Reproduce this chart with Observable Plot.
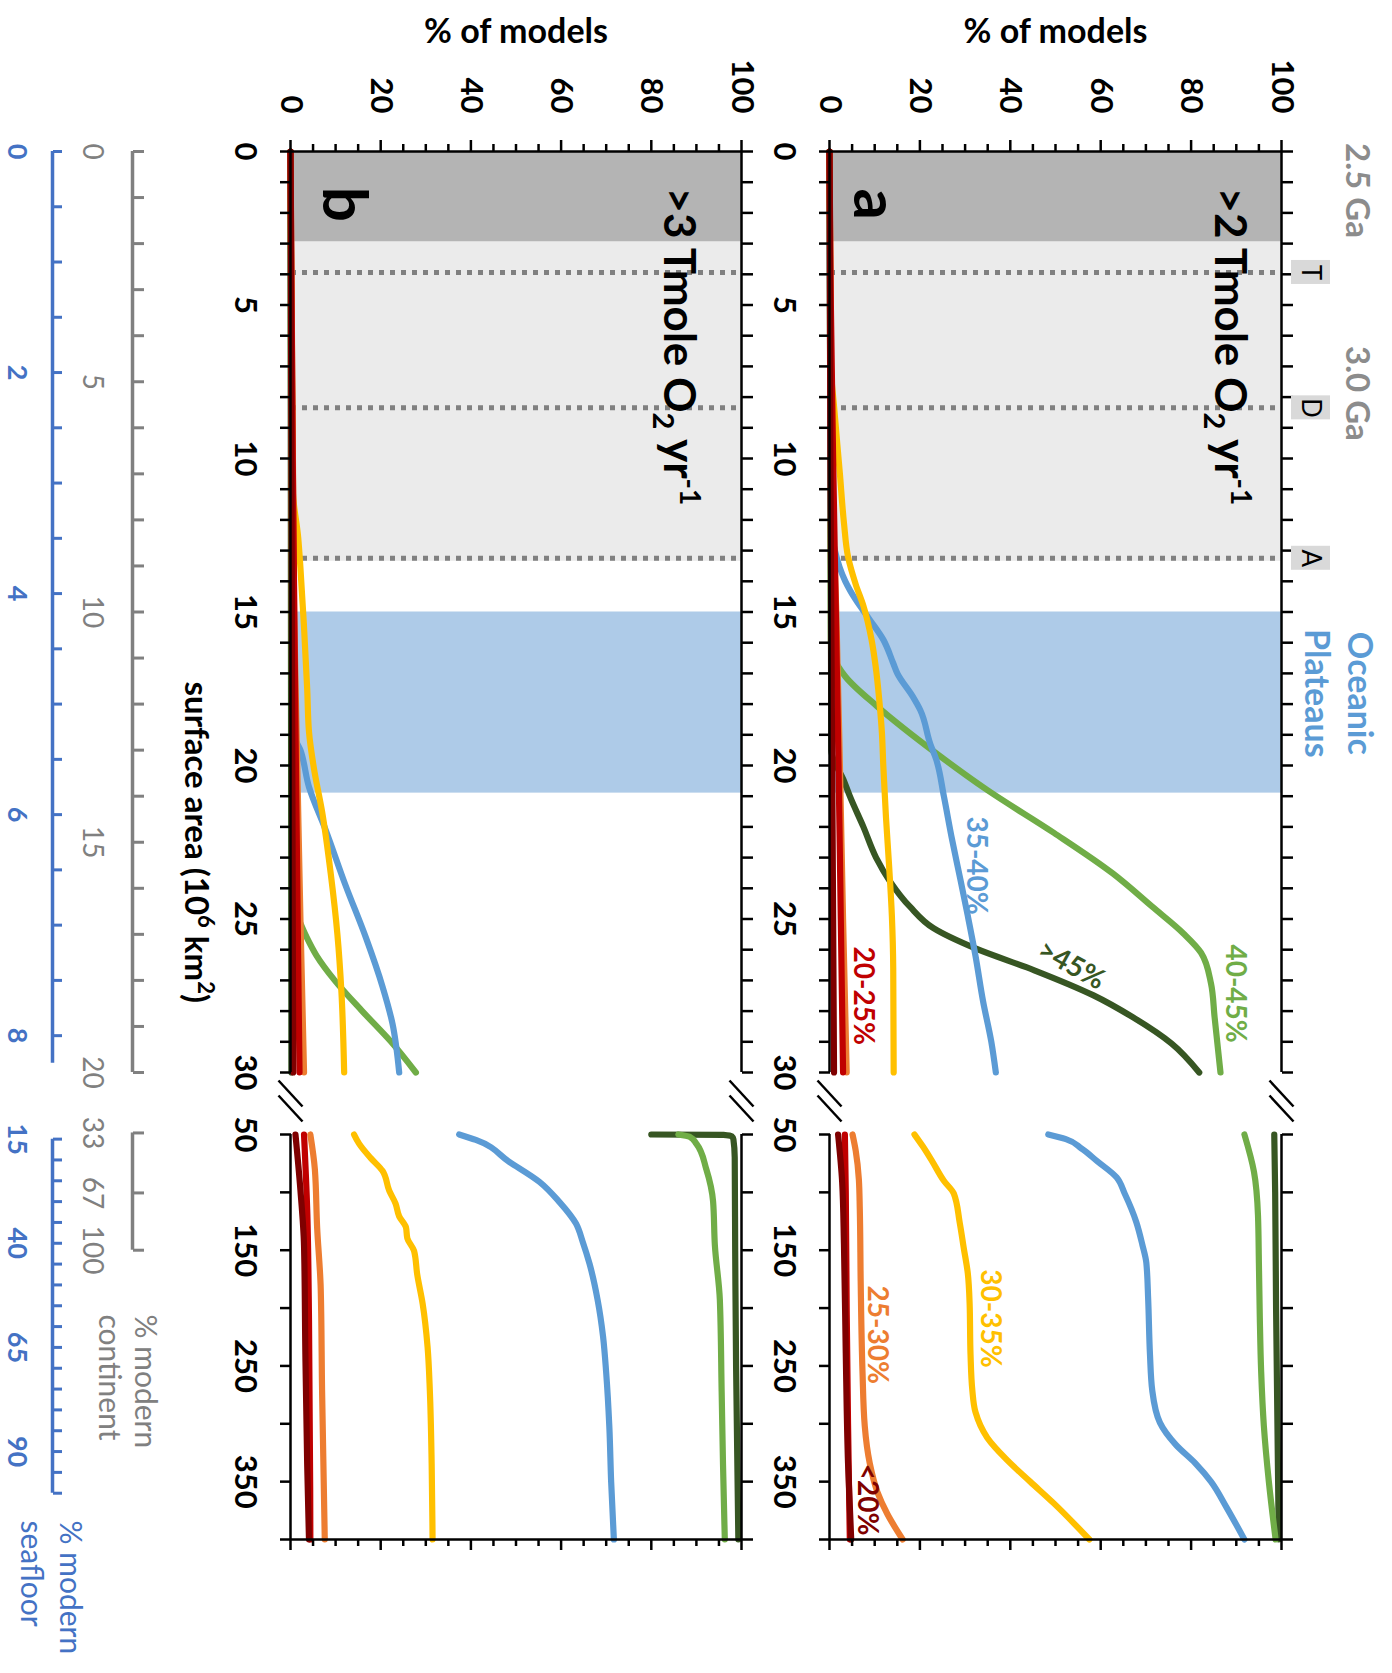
<!DOCTYPE html>
<html>
<head>
<meta charset="utf-8">
<script src="https://cdn.jsdelivr.net/npm/d3@7"></script>
<script src="https://cdn.jsdelivr.net/npm/@observablehq/plot@0.6"></script>
<style>
  html, body { margin: 0; padding: 0; background: #fff; }
  body { width: 1392px; height: 1673px; overflow: hidden; position: relative; }
  #wrap { position: absolute; left: 0; top: 0; width: 1673px; height: 1392px;
          transform-origin: 0 0; transform: translate(1392px, 0) rotate(90deg); }
  #wrap > svg { position: absolute; left: 0; }
</style>
</head>
<body>
<div id="wrap"></div>
<script>
// ================= DATA =================
const seriesNames  = [">45%", "40-45%", "35-40%", "30-35%", "25-30%", "20-25%", "<20%"];
const seriesColors = ["#375623", "#70ad47", "#5b9bd5", "#ffc000", "#ed7d31", "#c00000", "#7f0000"];

// panel a : >2 Tmole O2/yr  — [surface area (10^6 km2), % of models]
const aGt45 = [[0,0],[19.5,0.4],[20.5,3.2],[21,4.5],[22,7.5],[23,10.3],[23.8,13.5],[24.6,17.8],[25.3,23],[25.96,32.3],[26.67,45.3],[27.48,58.3],[28.19,67],[29.06,75.7],[30,81.8],
               [50,98.4],[100,98.6],[200,98.8],[300,99.1],[400,99.4]];
const a4045 = [[0,0],[16,0.3],[16.5,1],[17.1,3.5],[18.08,10.6],[19.6,23.6],[20.8,34.9],[22.2,49.7],[23.52,62.7],[24.6,71.4],[25.47,78.3],[26.1,82.2],[27.1,84.4],[28.2,85.2],[30,86.5],
               [50,91.8],[82,93.9],[120,94.8],[161,95],[208,95.2],[255,95.5],[302,96.1],[350,97.2],[400,98.7]];
const a3540 = [[0,0],[12,0.3],[13,1.2],[14,3.5],[14.6,5.8],[15.25,8.9],[15.9,11.9],[16.67,14.1],[17,15],[17.75,18.4],[18.2,20.1],[19.3,22.3],[19.8,23.6],[21,25.3],[22.4,27.1],[23.6,28.8],[24.9,30.6],[26.2,32.3],[27.7,34],[29,35.8],[30,36.8],
               [50,48.4],[54,52.3],[62,55.7],[73,59.2],[87,63.5],[101,65.3],[126,67.9],[145,69.2],[161,70.1],[192,70.5],[240,70.9],[271,71.4],[299,73.1],[318,76.6],[334,80.9],[350,84.4],[372,87.8],[400,91.8]];
const a3035 = [[0,0],[7,0.3],[8.3,1],[10.5,2.3],[12.1,3.2],[13.2,4.1],[14.1,5.8],[14.8,7.5],[15.9,9.3],[16.76,10.2],[17.85,11],[18.95,11.6],[20,11.9],[21.7,12.5],[23.3,13.2],[24.9,13.8],[26.6,14.1],[30,14.2],
               [50,18.8],[60,20.6],[73,22.7],[90,25.3],[101,27.5],[126,28.8],[148,29.7],[170,30.6],[196,31],[240,31.2],[271,31.6],[290,32.3],[312,34.9],[331,39.2],[350,44.4],[369,49.7],[400,57.5]];
const a2530 = [[0,0],[10,0.4],[15,1.5],[20,2.3],[25,3],[30,3.8],
               [50,5.1],[64,5.8],[89,6.5],[114,6.7],[177,6.9],[255,7.3],[302,7.8],[334,8.9],[359,10.6],[378,12.8],[400,16.2]];
const a2025 = [[0,0],[5,0.3],[10,0.8],[15,1.4],[20,2],[25,2.5],[30,3],
               [50,3.4],[100,3.6],[200,3.8],[300,4.1],[400,4.5]];
const aLt20 = [[0,0],[10,0.2],[20,0.6],[30,1],
               [50,1.9],[91,2.8],[145,3.2],[239,3.6],[334,4.1],[400,4.8]];

// panel b : >3 Tmole O2/yr
const bGt45 = [[0,0],[30,0.2],
               [50,80],[50.3,96],[51.5,97.8],[54,98.2],[70,98.5],[150,98.6],[250,98.8],[400,99.3]];
const b4045 = [[0,0],[24.5,0.5],[25,1.8],[25.6,3.6],[26.2,5.8],[27,9.8],[28,15.9],[29,22.3],[30,27.8],
               [50,86],[52,88.5],[58,90],[80,92.2],[108,93.7],[146,94.1],[193,95.2],[272,95.6],[335,95.9],[400,96.3]];
const b3540 = [[0,0],[19,0.8],[19.5,2.2],[20.7,4.1],[22.1,7.8],[23.9,12.2],[25.6,16.7],[27.2,20.4],[28.4,22.6],[30,24.1],
               [50,37.4],[54.7,41.1],[73.6,48.5],[90.9,55.2],[108.2,59.6],[127,63.3],[142.8,64.8],[161.6,66.3],[193,68.1],[224.5,69.3],[256,70],[303,70.7],[350.3,71.1],[400,71.7]];
const b3035 = [[0,0],[11,0.5],[12.57,1.7],[13.56,2.2],[15.5,3],[17.5,3.7],[18.9,4.1],[20.1,5.2],[21.5,7],[23.5,8.9],[25.5,10.4],[27.4,11.3],[30,11.9],
               [50,14.1],[57.9,15.2],[70.4,17.8],[81.4,20.4],[98.7,21.9],[109.7,23.3],[120.8,24.1],[130.2,25.6],[139.6,25.9],[150.6,27.4],[171,28.1],[196.2,29.3],[233.9,30.4],[271.7,30.9],[334.6,31.3],[400,31.5]];
const b2530 = [[0,0],[15,0.8],[20,1.5],[25,2.2],[30,3],
               [50,4.4],[80,5.4],[130,5.9],[183,6.7],[271,7],[400,7.6]];
const b2025 = [[0,0],[10,0.5],[20,1.2],[30,2],
               [50,3],[115,3.7],[210,4.1],[400,4.4]];
const bLt20 = [[0,0],[30,0.6],
               [50,1.1],[98,2.2],[146,3],[240,3.3],[335,3.7],[400,4.1]];

// shaded periods and events (surface area)
const darkEra     = [[0, 2.95]];
const lightEra    = [[2.95, 13.35]];
const plateauBand = [[15, 20.9]];
const events      = [{label: "T", area: 3.94}, {label: "D", area: 8.35}, {label: "A", area: 13.25}];
const ageLabels   = [{label: "2.5 Ga", area: 1.27}, {label: "3.0 Ga", area: 7.88}];

// series labels of panel a
const seriesLabelsA = [
  {series: "35-40%", area: 23.26, pct: 32.3, angle: 0},
  {series: "40-45%", area: 27.43, pct: 89.6, angle: 0},
  {series: ">45%",   area: 26.5,  pct: 53.5, angle: -61},
  {series: "20-25%", area: 27.5,  pct: 7.5,  angle: 0},
  {series: "30-35%", area: 209,   pct: 35.6, angle: 0},
  {series: "25-30%", area: 223,   pct: 10.6, angle: 0},
  {series: "<20%",   area: 365.5, pct: 8.2,  angle: 0}
];

// axes
const areaDomain     = [0, 30, 50, 400];
const areaTicks      = [...d3.range(0, 31, 1), ...d3.range(50, 401, 50)];
const areaTickLabels = [0, 5, 10, 15, 20, 25, 30, 50, 150, 250, 350];
const pctTicks       = d3.range(0, 101, 5);
const pctTickLabels  = [0, 20, 40, 60, 80, 100];
const modernContinent = 150;   // 10^6 km2
const modernSeafloor  = 360;   // 10^6 km2
const continentTicksUpper  = d3.range(0, 21, 1);
const continentLabelsUpper = [0, 5, 10, 15, 20];
const continentLabelsLower = [33, 67, 100];
const seafloorTicksUpper   = d3.range(0, 8.01, 0.5);
const seafloorLabelsUpper  = [0, 2, 4, 6, 8];
const seafloorTicksLower   = d3.range(15, 101, 5);
const seafloorLabelsLower  = [15, 40, 65, 90];

// ================= LAYOUT (unrotated frame, rotated by CSS) =================
const FONT = "Lato, 'Open Sans', 'DejaVu Sans', sans-serif";
const U = [151, 1072, 1134, 1539];
const pxU = (U[1] - U[0]) / 30, pxL = (U[3] - U[2]) / 350, gapPx = (U[2] - U[1]) / 20;
const xScale = () => ({type: "linear", domain: areaDomain, range: U, axis: null});
const colorScale = {type: "ordinal", domain: seriesNames, range: seriesColors};
const baseStyle = {fontFamily: FONT, overflow: "visible", background: "transparent", color: "#000"};

function richText(svg, plain, parts) {
  for (const t of svg.querySelectorAll("text")) {
    if (t.textContent === plain) {
      t.textContent = "";
      for (const [s, dy, fs] of parts) {
        const ts = document.createElementNS("http://www.w3.org/2000/svg", "tspan");
        ts.textContent = s;
        if (dy) ts.setAttribute("dy", dy);
        if (fs) ts.setAttribute("font-size", fs);
        t.appendChild(ts);
      }
    }
  }
}

function panel({series, height, top, bottom, title, titlePct, letter, letterPct, labels = [], extra = () => []}) {
  const pxP = (bottom - top) / 100;
  const rows = [];
  series.forEach((pts, i) => pts.forEach(([area, pct]) =>
    rows.push({series: seriesNames[i], key: seriesNames[i] + (area < 40 ? "|u" : "|l"), area, pct})));
  const tickP = 11 / pxP;
  const frame = {stroke: "#000", strokeWidth: 2.5};
  const breaks = [];
  [1093, 1108].forEach(u => {
    const c = 30 + (u - U[1]) / gapPx;
    [0, 100].forEach(p => breaks.push({x1: c - 13 / gapPx, x2: c + 13 / gapPx, y1: p - 12 / pxP, y2: p + 12 / pxP}));
  });
  const band = (arr, fill) => Plot.rect(arr, {x1: d => d[0], x2: d => d[1], y1: 0, y2: 100, fill});
  return Plot.plot({
    width: 1673, height,
    x: xScale(),
    y: {type: "linear", domain: [0, 100], range: [bottom, top], axis: null},
    color: colorScale,
    style: baseStyle,
    marks: [
      band(darkEra, "#b4b4b4"),
      band(lightEra, "#ebebeb"),
      band(plateauBand, "#aecbe8"),
      Plot.ruleX(events, {x: "area", y1: 0, y2: 100, stroke: "#808080", strokeWidth: 5, strokeDasharray: "5,6"}),
      Plot.line(rows, {x: "area", y: "pct", z: "key", stroke: "series", strokeWidth: 6.2, curve: "monotone-x"}),
      Plot.ruleY([0, 100], {x1: 0, x2: 30, ...frame}),
      Plot.ruleY([0, 100], {x1: 50, x2: 400, ...frame}),
      Plot.ruleX([0, 400], {y1: 0, y2: 100, ...frame}),
      Plot.link(breaks, {x1: "x1", y1: "y1", x2: "x2", y2: "y2", ...frame}),
      Plot.ruleX(areaTicks, {x: d => d, y1: 0, y2: -tickP, ...frame}),
      Plot.ruleX(areaTicks, {x: d => d, y1: 100, y2: 100 + tickP, ...frame}),
      Plot.ruleY(pctTicks, {y: d => d, x1: 0, x2: d => -(d % 20 === 0 ? 11 : 7) / pxU, ...frame}),
      Plot.ruleY(pctTicks, {y: d => d, x1: 400, x2: d => 400 + (d % 20 === 0 ? 11 : 7) / pxL, ...frame}),
      Plot.text(areaTickLabels, {x: d => d, y: 0, dy: 33, lineAnchor: "top", text: d => String(d), fontSize: 31, fontWeight: "bold", fill: "#000"}),
      Plot.text(pctTickLabels, {x: 0, y: d => d, dx: -38, textAnchor: "end", text: d => String(d), fontSize: 31, fontWeight: "bold", fill: "#000"}),
      Plot.text(["% of models"], {x: -3.52, y: 50, rotate: -90, lineAnchor: "bottom", text: d => d, fontSize: 34, fontWeight: "bold", fill: "#000"}),
      Plot.text([title], {x: 1.17, y: titlePct, textAnchor: "start", lineAnchor: "bottom", text: d => d, fontSize: 44, fontWeight: "bold", fill: "#000"}),
      Plot.text([letter], {x: 1.72, y: letterPct, lineAnchor: "bottom", text: d => d, fontSize: 62, fontWeight: "bold", fill: "#000"}),
      Plot.text(labels, {x: "area", y: "pct", text: "series", fill: "series", rotate: "angle", fontSize: 28, fontWeight: "bold"}),
      ...extra(pxP)
    ]
  });
}

const wrap = document.getElementById("wrap");

// ---- panel a ----
const svgA = panel({
  series: [aGt45, a4045, a3540, a3035, a2530, a2025, aLt20],
  height: 640, top: 110, bottom: 562,
  title: ">2 Tmole O2 yr-1", titlePct: 85.2,
  letter: "a", letterPct: 5.5,
  labels: seriesLabelsA,
  extra: pxP => [
    Plot.rect(events, {x1: d => d.area - 12 / pxU, x2: d => d.area + 12 / pxU, y1: 100 + 9 / pxP, y2: 100 + 48 / pxP, fill: "#d9d9d9"}),
    Plot.text(events, {x: "area", y: 100 + 28.5 / pxP, text: "label", fontSize: 26, fill: "#000"}),
    Plot.text(ageLabels, {x: "area", y: 100 + 64 / pxP, text: "label", lineAnchor: "bottom", fontSize: 33, fontWeight: "bold", fill: "#8c8c8c"}),
    Plot.text(plateauBand, {x: d => (d[0] + d[1]) / 2 - 0.3, y: 100 + 23 / pxP, text: () => "Oceanic\nPlateaus", lineAnchor: "bottom", lineHeight: 1.265, fontSize: 34, fontWeight: "bold", fill: "#5b9bd5"})
  ]
});
svgA.style.top = "0px";
richText(svgA, ">2 Tmole O2 yr-1", [[">2 Tmole O"], ["2", 11, 29], [" yr", -11], ["-1", -16, 28]]);
wrap.appendChild(svgA);

// ---- panel b ----
const svgB = panel({
  series: [bGt45, b4045, b3540, b3035, b2530, b2025, bLt20],
  height: 580, top: 10, bottom: 461,
  title: ">3 Tmole O2 yr-1", titlePct: 82.9,
  letter: "b", letterPct: 7.1,
  extra: pxP => [
    Plot.text(["surface area (10^6 km^2)"], {x: 22.5, y: -106 / pxP, text: d => d, lineAnchor: "bottom", fontSize: 33, fontWeight: "bold", fill: "#000"})
  ]
});
svgB.style.top = "640px";
richText(svgB, ">3 Tmole O2 yr-1", [[">3 Tmole O"], ["2", 11, 29], [" yr", -11], ["-1", -16, 28]]);
richText(svgB, "surface area (10^6 km^2)", [["surface area (10"], ["6", -13, 22], [" km", 13], ["2", -13, 22], [")", 13]]);
wrap.appendChild(svgB);

// ---- bottom axes: % modern continent / % modern seafloor ----
const gray = "#808080", blue = "#4472c4";
const cont = c => c * modernContinent / 100;
const sea = s => s * modernSeafloor / 100;
const svgC = Plot.plot({
  width: 1673, height: 172,
  x: xScale(),
  y: {type: "linear", domain: [0, 172], range: [0, 172], axis: null},
  style: baseStyle,
  marks: [
    Plot.ruleY([39], {x1: 0, x2: cont(20), stroke: gray, strokeWidth: 3.5}),
    Plot.ruleX(continentTicksUpper, {x: cont, y1: 39, y2: 28, stroke: gray, strokeWidth: 3}),
    Plot.text(continentLabelsUpper, {x: cont, y: 80, text: d => String(d), fill: gray, fontSize: 28}),
    Plot.ruleY([39], {x1: cont(continentLabelsLower[0]), x2: cont(100), stroke: gray, strokeWidth: 3.5}),
    Plot.ruleX(continentLabelsLower, {x: cont, y1: 39, y2: 28, stroke: gray, strokeWidth: 3}),
    Plot.text(continentLabelsLower, {x: cont, y: 80, text: d => String(d), fill: gray, fontSize: 28}),
    Plot.text(["% modern\ncontinent"], {x: 50 + 180 / pxL, y: 73, text: d => d, textAnchor: "start", lineAnchor: "bottom", lineHeight: 1.2, fill: gray, fontSize: 30}),
    Plot.ruleY([119], {x1: 0, x2: sea(8.25), stroke: blue, strokeWidth: 3.5}),
    Plot.ruleX(seafloorTicksUpper, {x: sea, y1: 119, y2: 110, stroke: blue, strokeWidth: 3}),
    Plot.text(seafloorLabelsUpper, {x: sea, y: 155, text: d => String(d), fill: blue, fontSize: 27, fontWeight: "bold"}),
    Plot.ruleY([119], {x1: sea(15), x2: sea(100), stroke: blue, strokeWidth: 3.5}),
    Plot.ruleX(seafloorTicksLower, {x: sea, y1: 119, y2: 110, stroke: blue, strokeWidth: 3}),
    Plot.text(seafloorLabelsLower, {x: sea, y: 155, text: d => String(d), fill: blue, fontSize: 27, fontWeight: "bold"}),
    Plot.text(["% modern\nseafloor"], {x: 50 + 386 / pxL, y: 151, text: d => d, textAnchor: "start", lineAnchor: "bottom", lineHeight: 1.3, fill: blue, fontSize: 30})
  ]
});
svgC.style.top = "1220px";
wrap.appendChild(svgC);
</script>
</body>
</html>
